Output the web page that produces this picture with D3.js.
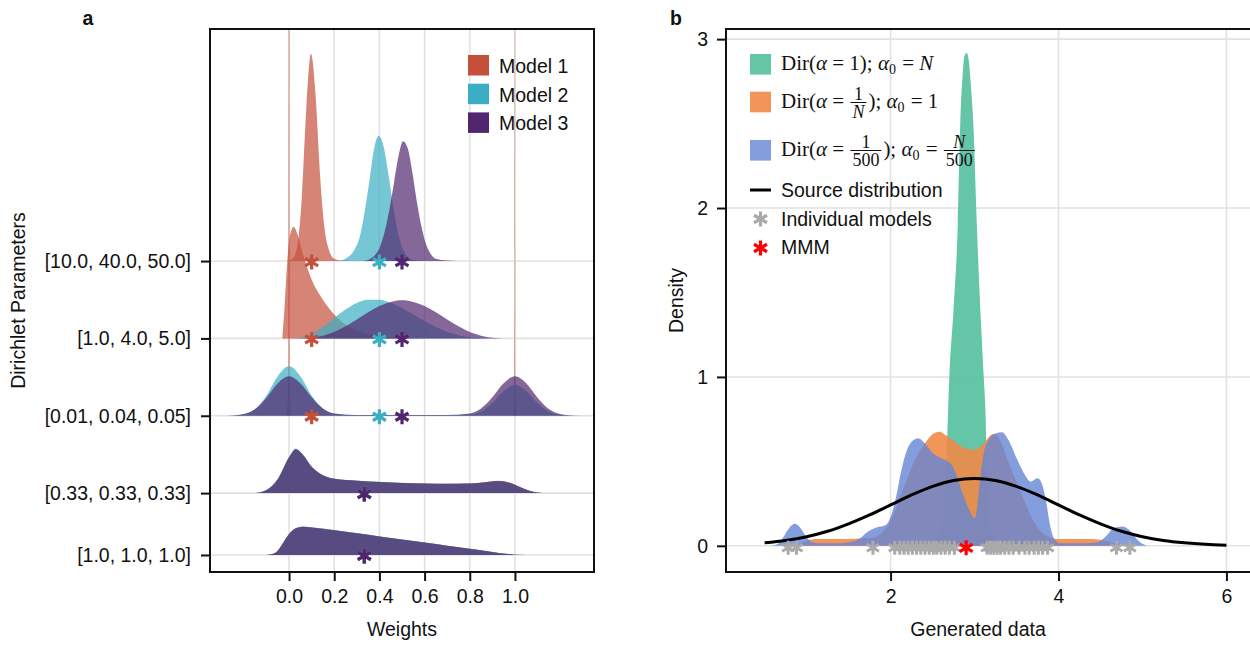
<!DOCTYPE html>
<html>
<head>
<meta charset="utf-8">
<script src="https://cdn.jsdelivr.net/npm/d3@7"></script>
<style>
body{margin:0;background:#fff}
text{font-family:"Liberation Sans",Arial,Helvetica,sans-serif;fill:#111}
.math{font-family:"Liberation Serif","Times New Roman",serif;white-space:pre}
</style>
</head>
<body>
<svg id="fig" width="1250" height="646"></svg>
<script>
// ---------- panel a data ----------
var rowLabels = ["[10.0, 40.0, 50.0]", "[1.0, 4.0, 5.0]", "[0.01, 0.04, 0.05]", "[0.33, 0.33, 0.33]", "[1.0, 1.0, 1.0]"];
var rowOffsets = [19, 14, 9, 4, 0];
var modelNames = ["Model 1", "Model 2", "Model 3"];
var modelColors = ["#c4503a", "#3aafc4", "#51266e"];
var weightTicks = [0, 0.2, 0.4, 0.6, 0.8, 1.0];
// mean weight of each model per row (star markers)
var rowMeans = [[0.1, 0.4, 0.5], [0.1, 0.4, 0.5], [0.1, 0.4, 0.5], [0.333, 0.333, 0.333], [0.333, 0.333, 0.333]];

// densities: [weight, density]
var dens_10_40_50 = [
  [[-0.01,0],[0.017,0.17],[0.037,1.0],[0.057,4.2],[0.077,10.0],[0.097,13.4],[0.117,10.8],[0.137,5.6],[0.157,2.1],[0.177,0.7],[0.2,0.15],[0.23,0.03],[0.28,0]],
  [[0.22,0],[0.26,0.25],[0.29,0.75],[0.317,1.8],[0.337,3.4],[0.357,5.3],[0.377,7.3],[0.397,8.1],[0.417,7.5],[0.437,5.9],[0.457,3.9],[0.477,2.2],[0.497,1.05],[0.517,0.42],[0.54,0.12],[0.57,0.02],[0.62,0]],
  [[0.33,0],[0.37,0.25],[0.405,1.0],[0.425,2.0],[0.445,3.4],[0.465,5.1],[0.485,6.8],[0.505,7.75],[0.525,7.3],[0.545,5.8],[0.565,3.9],[0.585,2.3],[0.605,1.15],[0.625,0.5],[0.65,0.15],[0.7,0.03],[0.75,0]]
];
var dens_1_4_5 = [
  [[-0.03,0],[-0.02,2.0],[-0.01,4.5],[0.0,6.3],[0.02,7.2],[0.04,6.6],[0.06,5.5],[0.08,4.6],[0.1,3.8],[0.15,2.5],[0.2,1.55],[0.25,0.9],[0.3,0.52],[0.35,0.28],[0.4,0.15],[0.45,0.07],[0.5,0.03],[0.6,0]],
  [[0.0,0],[0.05,0.05],[0.1,0.3],[0.15,0.75],[0.2,1.32],[0.25,1.87],[0.3,2.29],[0.35,2.5],[0.4,2.5],[0.45,2.31],[0.5,1.97],[0.55,1.54],[0.6,1.12],[0.65,0.73],[0.7,0.42],[0.75,0.21],[0.8,0.08],[0.85,0.02],[0.9,0]],
  [[0.05,0],[0.1,0.04],[0.15,0.17],[0.2,0.41],[0.25,0.78],[0.3,1.22],[0.35,1.69],[0.4,2.09],[0.45,2.36],[0.5,2.46],[0.55,2.36],[0.6,2.09],[0.65,1.69],[0.7,1.22],[0.75,0.78],[0.8,0.41],[0.85,0.17],[0.9,0.04],[0.95,0]]
];
var dens_001_004_005 = [
  [[-0.01,0],[-0.003,2],[0,60],[0.003,2],[0.01,0],[0.992,0],[0.998,1],[1,40],[1.002,1],[1.008,0]],
  [[-0.3,0],[-0.25,0.02],[-0.2,0.09],[-0.15,0.43],[-0.1,1.31],[-0.05,2.56],[0,3.2],[0.05,2.56],[0.1,1.31],[0.15,0.45],[0.2,0.13],[0.3,0.05],[0.5,0.05],[0.7,0.05],[0.8,0.09],[0.85,0.28],[0.9,0.83],[0.95,1.6],[1,2.0],[1.05,1.6],[1.1,0.82],[1.15,0.27],[1.2,0.06],[1.25,0.01],[1.3,0]],
  [[-0.3,0],[-0.25,0.02],[-0.2,0.11],[-0.15,0.44],[-0.1,1.17],[-0.05,2.1],[0,2.55],[0.05,2.1],[0.1,1.19],[0.15,0.47],[0.2,0.15],[0.3,0.05],[0.5,0.05],[0.7,0.05],[0.8,0.15],[0.85,0.47],[0.9,1.19],[0.95,2.1],[1,2.55],[1.05,2.1],[1.1,1.17],[1.15,0.44],[1.2,0.11],[1.25,0.02],[1.3,0]]
];
var dens_033_033_033 = [
  [[-0.15,0],[-0.1,0.2],[-0.05,0.9],[0,2.3],[0.03,2.84],[0.06,2.5],[0.1,1.7],[0.15,1.15],[0.2,0.92],[0.3,0.8],[0.4,0.72],[0.5,0.66],[0.6,0.62],[0.7,0.6],[0.8,0.63],[0.88,0.74],[0.93,0.8],[0.98,0.66],[1.03,0.35],[1.08,0.08],[1.12,0]],
  [[-0.15,0],[-0.1,0.2],[-0.05,0.92],[0,2.35],[0.03,2.88],[0.06,2.52],[0.1,1.72],[0.15,1.16],[0.2,0.93],[0.3,0.81],[0.4,0.73],[0.5,0.67],[0.6,0.62],[0.7,0.6],[0.8,0.62],[0.88,0.72],[0.93,0.77],[0.98,0.64],[1.03,0.34],[1.08,0.08],[1.12,0]],
  [[-0.15,0],[-0.1,0.2],[-0.05,0.9],[0,2.3],[0.03,2.84],[0.06,2.5],[0.1,1.7],[0.15,1.15],[0.2,0.92],[0.3,0.8],[0.4,0.72],[0.5,0.66],[0.6,0.62],[0.7,0.6],[0.8,0.62],[0.88,0.72],[0.93,0.78],[0.98,0.65],[1.03,0.35],[1.08,0.08],[1.12,0]]
];
var dens_1_1_1 = [
  [[-0.1,0],[-0.06,0.15],[-0.03,0.7],[0,1.35],[0.03,1.72],[0.06,1.82],[0.1,1.78],[0.2,1.6],[0.3,1.4],[0.4,1.2],[0.5,1.0],[0.6,0.8],[0.7,0.6],[0.8,0.4],[0.9,0.2],[0.97,0.06],[1.0,0.02],[1.1,0]],
  [[-0.1,0],[-0.06,0.15],[-0.03,0.7],[0,1.36],[0.03,1.74],[0.06,1.84],[0.1,1.8],[0.2,1.62],[0.3,1.42],[0.4,1.21],[0.5,1.0],[0.6,0.8],[0.7,0.6],[0.8,0.4],[0.9,0.2],[0.97,0.06],[1.0,0.02],[1.1,0]],
  [[-0.1,0],[-0.06,0.15],[-0.03,0.7],[0,1.35],[0.03,1.72],[0.06,1.82],[0.1,1.78],[0.2,1.6],[0.3,1.4],[0.4,1.2],[0.5,1.0],[0.6,0.8],[0.7,0.6],[0.8,0.4],[0.9,0.2],[0.97,0.06],[1.0,0.02],[1.1,0]]
];
var rowDensities = [dens_10_40_50, dens_1_4_5, dens_001_004_005, dens_033_033_033, dens_1_1_1];

// ---------- panel b data ----------
var dirColors = ["#5cc2a2", "#f08a48", "#6584d4"];
var dirOpacity = [0.95, 0.9, 0.8];
var densGreen = [[2.45,0],[2.6,0.1],[2.66,0.4],[2.685,0.8],[2.70,1.0],[2.75,1.4],[2.80,1.9],[2.83,2.5],[2.86,2.8],[2.88,2.9],[2.905,2.92],[2.93,2.88],[2.96,2.7],[2.99,2.45],[3.02,2.0],[3.06,1.5],[3.11,1.0],[3.13,0.8],[3.15,0.4],[3.2,0.1],[3.35,0]];
var densOrange = [[0.7,0],[0.9,0.01],[1.0,0.03],[1.1,0.04],[1.3,0.04],[1.5,0.04],[1.65,0.045],[1.8,0.05],[1.9,0.08],[2.0,0.15],[2.1,0.27],[2.2,0.4],[2.3,0.52],[2.4,0.6],[2.5,0.66],[2.58,0.676],[2.66,0.655],[2.78,0.61],[2.9,0.575],[3.0,0.57],[3.1,0.6],[3.17,0.645],[3.24,0.663],[3.3,0.63],[3.4,0.5],[3.5,0.38],[3.6,0.26],[3.7,0.15],[3.8,0.08],[3.9,0.05],[4.0,0.04],[4.2,0.04],[4.4,0.04],[4.55,0.03],[4.7,0.01],[4.9,0]];
var densBlue = [[0.55,0],[0.65,0.01],[0.72,0.05],[0.8,0.11],[0.86,0.13],[0.92,0.11],[1.0,0.05],[1.08,0.02],[1.2,0.015],[1.4,0.015],[1.55,0.025],[1.65,0.05],[1.72,0.08],[1.83,0.108],[1.95,0.125],[2.0,0.17],[2.07,0.3],[2.13,0.45],[2.19,0.56],[2.26,0.62],[2.33,0.637],[2.4,0.61],[2.5,0.55],[2.6,0.52],[2.68,0.5],[2.74,0.47],[2.86,0.31],[2.95,0.2],[3.0,0.164],[3.03,0.22],[3.06,0.36],[3.09,0.49],[3.12,0.57],[3.17,0.63],[3.25,0.665],[3.33,0.673],[3.4,0.63],[3.5,0.52],[3.6,0.42],[3.67,0.38],[3.75,0.40],[3.8,0.37],[3.85,0.27],[3.9,0.12],[3.95,0.04],[4.02,0.015],[4.2,0.015],[4.45,0.02],[4.55,0.05],[4.65,0.1],[4.76,0.114],[4.85,0.09],[4.95,0.03],[5.05,0]];
var dirDensities = [densGreen, densOrange, densBlue];
var sourceDist = [[0.5,0.018],[0.75,0.032],[1.0,0.054],[1.25,0.086],[1.5,0.13],[1.75,0.183],[2.0,0.242],[2.25,0.301],[2.5,0.352],[2.75,0.387],[3.0,0.399],[3.25,0.387],[3.5,0.352],[3.75,0.301],[4.0,0.242],[4.25,0.183],[4.5,0.13],[4.75,0.086],[5.0,0.054],[5.25,0.032],[5.5,0.018],[5.75,0.009],[6.0,0.004]];
var modelOutputs = [0.78, 0.88, 1.79, 2.05, 2.11, 2.16, 2.21, 2.26, 2.31, 2.36, 2.41, 2.46, 2.51, 2.55, 2.6, 2.65, 2.7, 2.76,
  3.15, 3.19, 3.23, 3.27, 3.31, 3.36, 3.41, 3.46, 3.53, 3.6, 3.65, 3.71, 3.76, 3.81, 3.87, 4.69, 4.85];
var mmmValue = 2.9;
var dataTicks = [2, 4, 6];
var densityTicks = [0, 1, 2, 3];

// ---------- helpers ----------
var svg = d3.select("#fig");
var gridCol = "#e1e1e1";

function starPath(r){
  var c = r*Math.cos(Math.PI/6), s = r*0.5;
  return "M0,"+(-r)+"L0,"+r+"M"+(-c)+","+(-s)+"L"+c+","+s+"M"+(-c)+","+s+"L"+c+","+(-s);
}

// ---------- panel a ----------
var xa = d3.scaleLinear().domain([-0.35, 1.35]).range([210, 594]);
var ya = d3.scaleLinear().domain([-1.1, 34]).range([572, 29]);
var ga = svg.append("g");

ga.append("clipPath").attr("id","clipa").append("rect")
  .attr("x", xa.range()[0]).attr("y", ya.range()[1])
  .attr("width", xa.range()[1]-xa.range()[0]).attr("height", ya.range()[0]-ya.range()[1]);

ga.selectAll(".vgrid").data(weightTicks).enter().append("line")
  .attr("x1", d=>xa(d)).attr("x2", d=>xa(d)).attr("y1", ya.range()[1]).attr("y2", ya.range()[0])
  .attr("stroke", gridCol).attr("stroke-width", 1.6);
ga.selectAll(".hgrid").data(rowOffsets).enter().append("line")
  .attr("x1", xa.range()[0]).attr("x2", xa.range()[1]).attr("y1", d=>ya(d)).attr("y2", d=>ya(d))
  .attr("stroke", gridCol).attr("stroke-width", 1.6);

var plotA = ga.append("g").attr("clip-path","url(#clipa)");
rowDensities.forEach(function(row, r){
  var off = rowOffsets[r];
  var area = d3.area().x(d=>xa(d[0])).y0(ya(off)).y1(d=>ya(off+d[1])).curve(d3.curveMonotoneX);
  row.forEach(function(curve, m){
    plotA.append("path").datum(curve).attr("d", area)
      .attr("fill", modelColors[m]).attr("fill-opacity", 0.7);
  });
});
rowMeans.forEach(function(means, r){
  means.forEach(function(v, m){
    plotA.append("path").attr("d", starPath(7.5))
      .attr("transform","translate("+xa(v)+","+(ya(rowOffsets[r])+1)+")")
      .attr("stroke", modelColors[m]).attr("stroke-width", 3.2).attr("fill","none");
  });
});

// frame + axes
ga.append("rect").attr("x", xa.range()[0]).attr("y", ya.range()[1])
  .attr("width", xa.range()[1]-xa.range()[0]).attr("height", ya.range()[0]-ya.range()[1])
  .attr("fill","none").attr("stroke","#111").attr("stroke-width",2);
var axA = ga.append("g").attr("transform","translate(0,"+ya.range()[0]+")")
  .call(d3.axisBottom(xa).tickValues(weightTicks).tickFormat(d3.format(".1f")).tickSize(9).tickPadding(8));
var ayA = ga.append("g").attr("transform","translate("+xa.range()[0]+",0)")
  .call(d3.axisLeft(d3.scaleLinear().domain(ya.domain()).range(ya.range())).tickValues(rowOffsets)
    .tickFormat((d,i)=>rowLabels[i]).tickSize(9).tickPadding(10));
[axA, ayA].forEach(function(a){
  a.select(".domain").remove();
  a.selectAll("line").attr("stroke","#111").attr("stroke-width",2);
  a.selectAll("text").style("font-size","19.5px").style("font-family","Liberation Sans, Arial, sans-serif").attr("fill","#111");
});
ga.append("text").attr("x", xa(0.5)).attr("y", 636).attr("text-anchor","middle").style("font-size","19.5px").text("Weights");
ga.append("text").attr("transform","translate(25,"+((ya.range()[0]+ya.range()[1])/2)+") rotate(-90)")
  .attr("text-anchor","middle").style("font-size","19.5px").text("Dirichlet Parameters");
ga.append("text").attr("x", 88).attr("y", 25).attr("text-anchor","middle")
  .style("font-size","19.5px").style("font-weight","bold").text("a");

// legend a
var legA = ga.selectAll(".lega").data(modelNames).enter().append("g")
  .attr("transform", (d,i)=>"translate(468,"+(55+i*28.7)+")");
legA.append("rect").attr("width",21).attr("height",20.5).attr("fill",(d,i)=>modelColors[i]);
legA.append("text").attr("x",31).attr("y",18).style("font-size","19.5px").text(d=>d);

// ---------- panel b ----------
var xb = d3.scaleLinear().domain([0.04, 6.9]).range([726, 1302]);
var yb = d3.scaleLinear().domain([-0.155, 3.06]).range([572, 29]);
var gb = svg.append("g");

gb.selectAll(".vgrid").data(dataTicks).enter().append("line")
  .attr("x1", d=>xb(d)).attr("x2", d=>xb(d)).attr("y1", yb.range()[1]).attr("y2", yb.range()[0])
  .attr("stroke", gridCol).attr("stroke-width", 1.6);
gb.selectAll(".hgrid").data(densityTicks).enter().append("line")
  .attr("x1", xb.range()[0]).attr("x2", xb.range()[1]).attr("y1", d=>yb(d)).attr("y2", d=>yb(d))
  .attr("stroke", gridCol).attr("stroke-width", 1.6);

var areaB = d3.area().x(d=>xb(d[0])).y0(yb(0)).y1(d=>yb(d[1])).curve(d3.curveMonotoneX);
dirDensities.forEach(function(curve, i){
  gb.append("path").datum(curve).attr("d", areaB).attr("fill", dirColors[i]).attr("fill-opacity", dirOpacity[i]);
});
gb.append("path").datum(sourceDist)
  .attr("d", d3.line().x(d=>xb(d[0])).y(d=>yb(d[1])).curve(d3.curveMonotoneX))
  .attr("fill","none").attr("stroke","#000").attr("stroke-width",3);
gb.selectAll(".mstar").data(modelOutputs).enter().append("path").attr("d", starPath(7))
  .attr("transform", d=>"translate("+xb(d)+","+(yb(0)+2)+")")
  .attr("stroke","#aaaaaa").attr("stroke-width",3).attr("fill","none");
gb.append("path").attr("d", starPath(7.5))
  .attr("transform","translate("+xb(mmmValue)+","+(yb(0)+2)+")")
  .attr("stroke","#ff0000").attr("stroke-width",3.2).attr("fill","none");

// frame (right side runs off the figure)
gb.append("rect").attr("x", xb.range()[0]).attr("y", yb.range()[1])
  .attr("width", xb.range()[1]-xb.range()[0]).attr("height", yb.range()[0]-yb.range()[1])
  .attr("fill","none").attr("stroke","#111").attr("stroke-width",2);
var axB = gb.append("g").attr("transform","translate(0,"+yb.range()[0]+")")
  .call(d3.axisBottom(xb).tickValues(dataTicks).tickFormat(d3.format("d")).tickSize(9).tickPadding(8));
var ayB = gb.append("g").attr("transform","translate("+xb.range()[0]+",0)")
  .call(d3.axisLeft(yb).tickValues(densityTicks).tickFormat(d3.format("d")).tickSize(9).tickPadding(9));
[axB, ayB].forEach(function(a){
  a.select(".domain").remove();
  a.selectAll("line").attr("stroke","#111").attr("stroke-width",2);
  a.selectAll("text").style("font-size","19.5px").style("font-family","Liberation Sans, Arial, sans-serif").attr("fill","#111");
});
gb.append("text").attr("x", 978).attr("y", 636).attr("text-anchor","middle").style("font-size","19.5px").text("Generated data");
gb.append("text").attr("transform","translate(683,"+((yb.range()[0]+yb.range()[1])/2)+") rotate(-90)")
  .attr("text-anchor","middle").style("font-size","19.5px").text("Density");
gb.append("text").attr("x", 676).attr("y", 25).attr("text-anchor","middle")
  .style("font-size","19.5px").style("font-weight","bold").text("b");

// legend b: colour boxes
var legRows = [64.3, 102, 150.3];
legRows.forEach(function(cy, i){
  gb.append("rect").attr("x",750).attr("y",cy-10.3).attr("width",21).attr("height",20.6)
    .attr("fill",dirColors[i]).attr("fill-opacity",dirOpacity[i]);
});

// math labels, built piece by piece (spaces kept with white-space:pre)
var mathSize = 21, fracSize = 18;
function mathRow(x, base, parts){
  var g = gb.append("g");
  var cx = x;
  parts.forEach(function(p){
    if (p.frac){
      var bar = base - 5;
      var tn = g.append("text").attr("class","math").attr("y", bar-3).style("font-size",fracSize+"px")
        .attr("text-anchor","middle").text(p.frac[0]);
      var td = g.append("text").attr("class","math").attr("y", bar+15).style("font-size",fracSize+"px")
        .attr("text-anchor","middle").text(p.frac[1]);
      if (p.frac[0]==="N") tn.style("font-style","italic");
      if (p.frac[1]==="N") td.style("font-style","italic");
      var w = Math.max(tn.node().getComputedTextLength(), td.node().getComputedTextLength()) + 4;
      tn.attr("x", cx + 1 + w/2); td.attr("x", cx + 1 + w/2);
      g.append("line").attr("x1",cx+1).attr("x2",cx+1+w).attr("y1",bar).attr("y2",bar).attr("stroke","#111").attr("stroke-width",1);
      cx += w + 3;
    } else {
      var t = g.append("text").attr("class","math").attr("x",cx)
        .attr("y", p.sub ? base+4 : base).style("font-size",(p.sub ? 14 : mathSize)+"px").text(p.t);
      if (p.ital) t.style("font-style","italic");
      cx += t.node().getComputedTextLength() + (p.sub ? 1 : 0);
    }
  });
}
mathRow(781, 69.5, [{t:"Dir("},{t:"α",ital:true},{t:" = 1); "},{t:"α",ital:true},{t:"0",sub:true},{t:" = "},{t:"N",ital:true}]);
mathRow(781, 107.5, [{t:"Dir("},{t:"α",ital:true},{t:" = "},{frac:["1","N"]},{t:"); "},{t:"α",ital:true},{t:"0",sub:true},{t:" = 1"}]);
mathRow(781, 155.5, [{t:"Dir("},{t:"α",ital:true},{t:" = "},{frac:["1","500"]},{t:"); "},{t:"α",ital:true},{t:"0",sub:true},{t:" = "},{frac:["N","500"]}]);

// legend b: line and markers
gb.append("line").attr("x1",750).attr("x2",771).attr("y1",190).attr("y2",190).attr("stroke","#000").attr("stroke-width",3);
gb.append("text").attr("x",781).attr("y",196.5).style("font-size","19.5px").text("Source distribution");
gb.append("path").attr("d",starPath(7.5)).attr("transform","translate(760.5,219)")
  .attr("stroke","#aaaaaa").attr("stroke-width",3.2).attr("fill","none");
gb.append("text").attr("x",781).attr("y",225.5).style("font-size","19.5px").text("Individual models");
gb.append("path").attr("d",starPath(7.5)).attr("transform","translate(760.5,248)")
  .attr("stroke","#ff0000").attr("stroke-width",3.2).attr("fill","none");
gb.append("text").attr("x",781).attr("y",254).style("font-size","19.5px").text("MMM");
</script>
</body>
</html>
